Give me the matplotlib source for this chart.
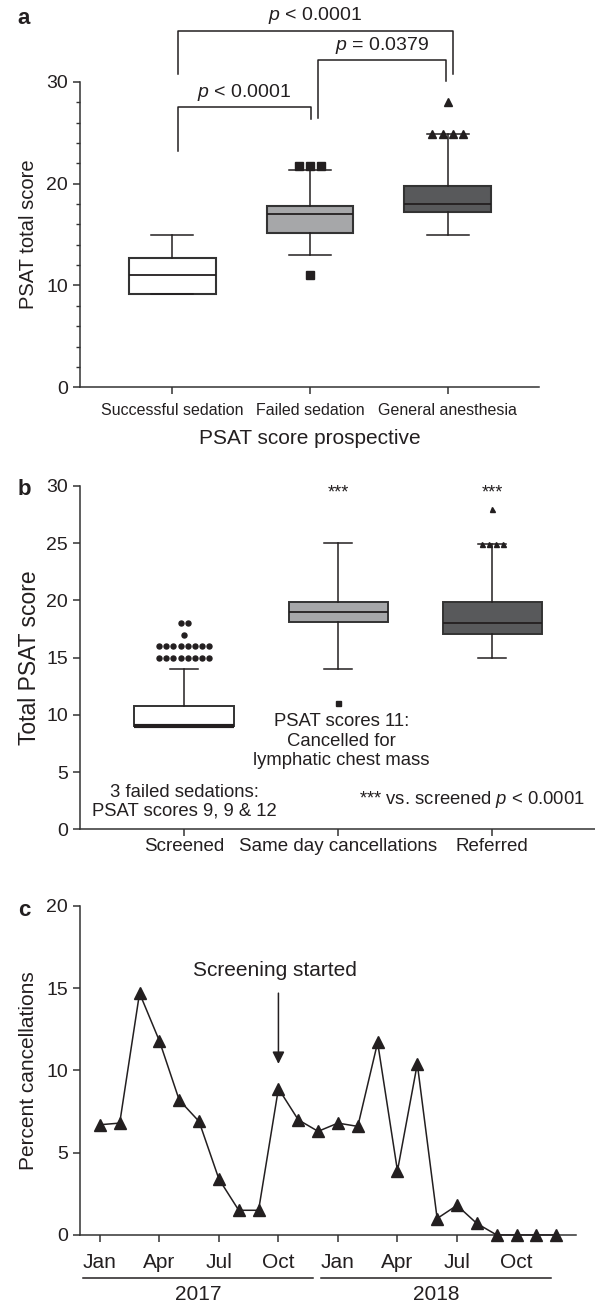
import matplotlib
matplotlib.use("Agg")
import matplotlib.pyplot as plt
from matplotlib.ticker import MultipleLocator
import matplotlib.transforms as mtransforms

plt.rcParams['font.family'] = ['Liberation Sans', 'DejaVu Sans']
plt.rcParams['mathtext.fontset'] = 'custom'
plt.rcParams['mathtext.rm'] = 'Liberation Sans'
plt.rcParams['mathtext.it'] = 'Liberation Sans:italic'

INK = '#231f20'
EDGE = '#333333'
FILLS = ['white', '#a6a7a9', '#58595b']

# Panel a: prospective PSAT score
a_groups = ["Successful sedation", "Failed sedation", "General anesthesia"]
a_q1 = [9.2, 15.2, 17.2]
a_med = [11, 17, 18]
a_q3 = [12.7, 17.8, 19.8]
a_whislo = [9.2, 13, 15]
a_whishi = [15, 21.3, 24.9]
a_fliers = [[], [21.7, 21.7, 21.7, 11], [24.9, 24.9, 24.9, 24.9, 28]]

# Panel b: screened vs cancellations vs referred
b_groups = ["Screened", "Same day cancellations", "Referred"]
b_q1 = [9, 18.1, 17.1]
b_med = [9, 19, 18]
b_q3 = [10.8, 19.9, 19.9]
b_whislo = [9, 14, 15]
b_whishi = [14, 25, 24.9]
b_fliers = [[15] * 8 + [16] * 8 + [17] + [18] * 2, [11], [24.9] * 4 + [28]]

# Panel c: monthly cancellations 2017-2018
c_months = ["Jan", "Feb", "Mar", "Apr", "May", "Jun",
            "Jul", "Aug", "Sep", "Oct", "Nov", "Dec"] * 2
c_percent = [6.7, 6.8, 14.7, 11.8, 8.2, 6.9, 3.4, 1.5, 1.5, 8.9, 7.0, 6.3,
             6.8, 6.6, 11.7, 3.9, 10.4, 1.0, 1.8, 0.7, 0.0, 0.0, 0.0, 0.0]
c_years = ["2017", "2018"]


def box_panel(ax, q1, med, q3, lo, hi, fliers, markers, msizes, spacing,
              width, capw, lw, med_lw):
    for i in range(len(q1)):
        st = [dict(med=med[i], q1=q1[i], q3=q3[i], whislo=lo[i], whishi=hi[i], fliers=[])]
        ax.bxp(st, positions=[i], widths=width, capwidths=capw, patch_artist=True,
               showfliers=False, manage_ticks=False,
               boxprops=dict(facecolor=FILLS[i], edgecolor=EDGE, linewidth=lw),
               whiskerprops=dict(color=INK, linewidth=1.1),
               capprops=dict(color=INK, linewidth=1.1),
               medianprops=dict(color=INK, linewidth=med_lw[i]))
        # spread repeated outliers side by side
        for v in sorted(set(fliers[i])):
            n = fliers[i].count(v)
            xs = [i + (k - (n - 1) / 2) * spacing[i] for k in range(n)]
            ax.plot(xs, [v] * n, linestyle='none', marker=markers[i],
                    markersize=msizes[i], color=INK, zorder=4, clip_on=False)


def style_axis(ax):
    for s in ['top', 'right']:
        ax.spines[s].set_visible(False)
    for s in ['left', 'bottom']:
        ax.spines[s].set_color(EDGE)
        ax.spines[s].set_linewidth(1.1)
    ax.tick_params(colors=EDGE, labelcolor=INK, width=1.1, length=5)


fig = plt.figure(figsize=(5.95, 13.06), dpi=100)

# ---------------- panel a ----------------
ax = fig.add_axes([0.1345, 0.7034, 0.772, 0.234])
box_panel(ax, a_q1, a_med, a_q3, a_whislo, a_whishi, a_fliers,
          [None, 's', '^'], [0, 5.5, 6], [0, 0.08, 0.075],
          0.63, 0.305, 1.5, [1.3, 1.3, 1.3])
ax.set_xlim(-0.67, 2.665)
ax.set_ylim(0, 30)
style_axis(ax)
ax.yaxis.set_major_locator(MultipleLocator(10))
ax.yaxis.set_minor_locator(MultipleLocator(2))
ax.tick_params(axis='y', which='minor', length=3, width=1.0, colors=EDGE)
ax.tick_params(axis='y', labelsize=14)
ax.set_xticks(range(3))
ax.set_xticklabels(a_groups, fontsize=11.5)
ax.tick_params(axis='x', pad=6)
ax.set_ylabel("PSAT total score", fontsize=14.5, color=INK, labelpad=6)
ax.set_xlabel("PSAT score prospective", fontsize=15, color=INK, labelpad=8)

brackets = [(0.04, 1.007, 27.5, 23.2, 26.3, 28.9, r"$p$ < 0.0001"),
            (1.056, 1.985, 32.1, 26.4, 30.1, 33.6, r"$p$ = 0.0379"),
            (0.04, 2.036, 35.0, 30.75, 30.75, 36.5, r"$p$ < 0.0001")]
for x1, x2, yt, y1, y2, ytxt, lab in brackets:
    ax.plot([x1, x1, x2, x2], [y1, yt, yt, y2], color=INK, linewidth=1.1, clip_on=False)
    ax.text((x1 + x2) / 2, ytxt, lab, ha='center', va='center', fontsize=14, color=INK)
fig.text(0.03, 0.986, "a", fontsize=16, fontweight='bold', color=INK, va='center')

# ---------------- panel b ----------------
ax = fig.add_axes([0.1345, 0.365, 0.8655, 0.2629])
box_panel(ax, b_q1, b_med, b_q3, b_whislo, b_whishi, b_fliers,
          ['o', 's', '^'], [3.6, 3.6, 3.6], [0.0458, 0.05, 0.0455],
          0.643, 0.184, 1.4, [3.0, 1.3, 1.3])
ax.set_xlim(-0.675, 2.667)
ax.set_ylim(0, 30)
style_axis(ax)
ax.yaxis.set_major_locator(MultipleLocator(5))
ax.tick_params(axis='y', labelsize=14)
ax.set_xticks(range(3))
ax.set_xticklabels(b_groups, fontsize=13.5)
ax.tick_params(axis='x', pad=1)
ax.set_ylabel("Total PSAT score", fontsize=16.5, color=INK, labelpad=4)
for xpos in [1, 2]:
    ax.text(xpos, 29.4, "***", ha='center', va='center', fontsize=13, color=INK)
ax.text(0, 2.4, "3 failed sedations:\nPSAT scores 9, 9 & 12", ha='center', va='center',
        fontsize=13.3, color=INK, linespacing=1.1)
ax.text(1.02, 7.7, "PSAT scores 11:\nCancelled for\nlymphatic chest mass", ha='center',
        va='center', fontsize=13.3, color=INK, linespacing=1.2)
ax.text(2.604, 2.6, r"*** vs. screened $p$ < 0.0001", ha='right', va='center',
        fontsize=13.3, color=INK)
fig.text(0.03, 0.625, "b", fontsize=16, fontweight='bold', color=INK, va='center')

# ---------------- panel c ----------------
ax = fig.add_axes([0.1345, 0.0544, 0.8336, 0.2519])
xs = list(range(len(c_percent)))
ax.plot(xs, c_percent, color=INK, linewidth=1.1, marker='^', markersize=9,
        markeredgecolor=INK, markerfacecolor=INK, clip_on=False, zorder=3)
ax.set_xlim(-1, 24)
ax.set_ylim(0, 20)
style_axis(ax)
ax.yaxis.set_major_locator(MultipleLocator(5))
ax.tick_params(axis='y', labelsize=14)
ax.set_xticks(xs[::3])
ax.set_xticklabels(c_months[::3], fontsize=15)
ax.tick_params(axis='x', pad=8)
ax.set_ylabel("Percent cancellations", fontsize=15, color=INK, labelpad=6)
ax.annotate("", xy=(9, 10.4), xytext=(9, 14.7),
            arrowprops=dict(arrowstyle='-|>', color=INK, linewidth=1.1,
                            mutation_scale=18, shrinkA=0, shrinkB=0))
ax.text(8.83, 16.1, "Screening started", ha='center', va='center', fontsize=15, color=INK)

trans = mtransforms.blended_transform_factory(ax.transData, ax.transAxes)
for k, yr in enumerate(c_years):
    x1 = 12 * k - 0.84
    x2 = 12 * k + 10.75
    ax.plot([x1, x2], [-0.13, -0.13], color=INK, linewidth=1.1, transform=trans, clip_on=False)
    ax.text((x1 + x2) / 2, -0.182, yr, ha='center', va='center', fontsize=15,
            color=INK, transform=trans)
fig.text(0.03, 0.303, "c", fontsize=16, fontweight='bold', color=INK, va='center')

fig.savefig("out.png", dpi=100)
